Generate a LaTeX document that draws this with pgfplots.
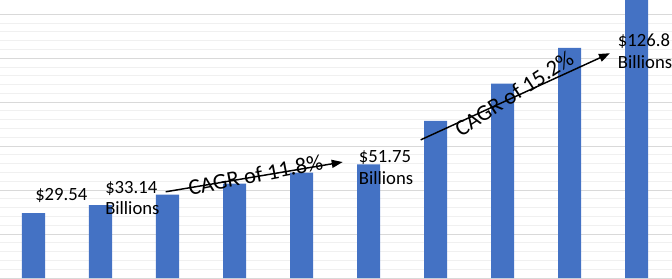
\documentclass[border=0pt]{standalone}
\usepackage{pgfplots}
\pgfplotsset{compat=1.18}
\usepackage{fontspec}
\setmainfont{Carlito}
\usetikzlibrary{arrows.meta}
\definecolor{barblue}{HTML}{4472C4}
\definecolor{majgrid}{HTML}{D9D9D9}
\definecolor{mingrid}{HTML}{F0F0F0}
\begin{document}
\begin{tikzpicture}
\begin{axis}[
  scale only axis,
  width=504pt, height=208.5pt,
  xmin=-0.5, xmax=9.53,
  ymin=0, ymax=126.5,
  axis line style={draw=none},
  xtick=\empty,
  ytick={0,20,...,120},
  yticklabels=\empty,
  minor y tick num=4,
  major tick length=0pt, minor tick length=0pt,
  ymajorgrids, yminorgrids,
  major grid style={majgrid, line width=0.75pt},
  minor grid style={mingrid, line width=0.75pt},
  ybar, bar width=17.25pt,
  clip=true,
]
\addplot[fill=barblue, draw=none] coordinates {
  (0,29.54) (1,33.14) (2,37.9) (3,43.0) (4,47.9)
  (5,51.75) (6,71.5) (7,88.5) (8,104.7) (9,126.8)
};
\begin{scope}[every node/.style={font=\fontsize{14}{17}\selectfont, inner sep=0pt, anchor=base west}]
\node at (axis cs:0.0224,35.36) {\$29.54};
\node at (axis cs:1.067,38.55) {\$33.14};
\node at (axis cs:1.067,28.77) {Billions};
\node at (axis cs:4.854,52.55) {\$51.75};
\node at (axis cs:4.854,42.41) {Billions};
\node at (axis cs:8.719,105.27) {\$126.8};
\node at (axis cs:8.719,95.45) {Billions};
\end{scope}
\draw[line width=1.1pt, -{Triangle[length=8.25pt,width=6pt]}] (axis cs:1.973,39.23) -- (axis cs:4.615,52.77);
\draw[line width=1.1pt, -{Triangle[length=8.25pt,width=6pt]}] (axis cs:5.779,62.86) -- (axis cs:8.604,102.27);
\node[font=\fontsize{16.9}{20}\selectfont, inner sep=0pt, rotate=11] at (axis cs:3.313,46.95) {CAGR of 11.8\%};
\node[font=\fontsize{16.9}{20}\selectfont, inner sep=0pt, rotate=33] at (axis cs:7.172,83.9) {CAGR of 15.2\%};
\end{axis}
\pgfresetboundingbox
\path (current axis.south west) rectangle (current axis.north east);
\end{tikzpicture}
\end{document}
